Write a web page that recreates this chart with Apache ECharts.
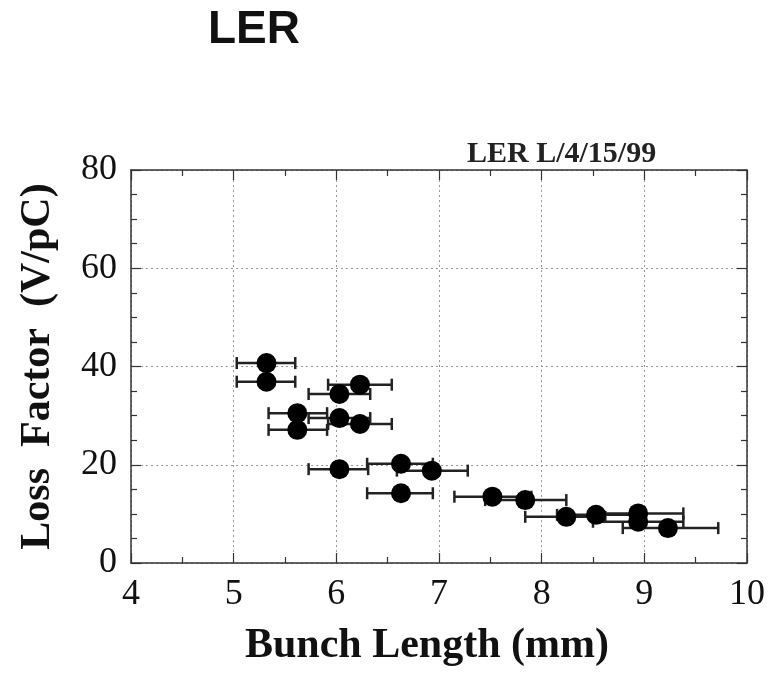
<!DOCTYPE html>
<html>
<head>
<meta charset="utf-8">
<script src="https://cdn.jsdelivr.net/npm/echarts@6/dist/echarts.min.js"></script>
<style>html,body{margin:0;padding:0;background:#fff;}#c{width:773px;height:673px;}</style>
</head>
<body>
<div id="c"></div>
<script>
// Bunch length (mm) and loss factor (V/pC)
var bunchLength = [5.32, 5.32, 6.23, 6.03, 5.62, 5.62, 6.03, 6.23, 6.03, 6.63, 6.93, 6.63, 7.52, 7.84, 8.24, 8.53, 8.94, 8.94, 9.23];
var lossFactor  = [40.7, 36.9, 36.3, 34.4, 30.5, 27.1, 29.5, 28.3, 19.1, 20.2, 18.8, 14.2, 13.5, 12.8, 9.4, 9.8, 10.1, 8.4, 7.1];
var lengthLow   = [5.03, 5.03, 5.92, 5.73, 5.34, 5.34, 5.73, 5.92, 5.73, 6.30, 6.59, 6.30, 7.15, 7.45, 7.84, 8.15, 8.50, 8.50, 8.79];
var lengthHigh  = [5.60, 5.60, 6.54, 6.33, 5.91, 5.91, 6.33, 6.54, 6.31, 6.94, 7.28, 6.94, 7.90, 8.24, 8.62, 8.90, 9.38, 9.38, 9.72];
var xTicks = [4, 5, 6, 7, 8, 9, 10];
var yTicks = [0, 20, 40, 60, 80];

var points = bunchLength.map(function (x, i) { return [x, lossFactor[i]]; });
var bars = bunchLength.map(function (x, i) { return [lengthLow[i], lengthHigh[i], lossFactor[i]]; });

var serif = '"Liberation Serif", "Times New Roman", serif';
var chart = echarts.init(document.getElementById('c'));

function xAxisDef(pos, showLabels) {
  return {
    type: 'value', position: pos, min: xTicks[0], max: xTicks[xTicks.length - 1], interval: 1,
    axisLine: { show: true, onZero: false, lineStyle: { color: '#333', width: 1.5 } },
    axisTick: { show: true, inside: true, length: 10, lineStyle: { color: '#333', width: 1.2 } },
    minorTick: { show: true, splitNumber: 2, length: 6, lineStyle: { color: '#333', width: 1.2 } },
    axisLabel: { show: showLabels, fontFamily: serif, fontSize: 36, color: '#111', margin: 14 },
    splitLine: { show: showLabels, lineStyle: { color: '#999', type: [2, 3], width: 1 } },
    name: showLabels ? 'Bunch Length (mm)' : '', nameLocation: 'middle', nameGap: 62,
    nameTextStyle: { fontFamily: serif, fontWeight: 'bold', fontSize: 42, color: '#111', padding: [0, 24, 0, 0] }
  };
}
function yAxisDef(pos, showLabels) {
  return {
    type: 'value', position: pos, min: yTicks[0], max: yTicks[yTicks.length - 1], interval: 20,
    axisLine: { show: true, onZero: false, lineStyle: { color: '#333', width: 1.5 } },
    axisTick: { show: true, inside: true, length: 10, lineStyle: { color: '#333', width: 1.2 } },
    minorTick: { show: true, splitNumber: 4, length: 6, lineStyle: { color: '#333', width: 1.2 } },
    axisLabel: { show: showLabels, fontFamily: serif, fontSize: 36, color: '#111', margin: 14 },
    splitLine: { show: showLabels, lineStyle: { color: '#999', type: [2, 3], width: 1 } },
    name: showLabels ? 'Loss  Factor  (V/pC)' : '', nameLocation: 'middle', nameGap: 72,
    nameTextStyle: { fontFamily: serif, fontWeight: 'bold', fontSize: 42, color: '#111' }
  };
}

chart.setOption({
  animation: false,
  backgroundColor: '#fff',
  title: [
    { text: 'LER', left: 203, top: 2, textStyle: { fontFamily: '"Liberation Sans", Arial, sans-serif', fontWeight: 'bold', fontSize: 46, color: '#111' } },
    { text: 'LER L/4/15/99', left: 462, top: 134, textStyle: { fontFamily: serif, fontWeight: 'bold', fontSize: 30, color: '#222' } }
  ],
  grid: { left: 131, top: 170, width: 616, height: 393 },
  xAxis: [xAxisDef('bottom', true), xAxisDef('top', false)],
  yAxis: [yAxisDef('left', true), yAxisDef('right', false)],
  series: [
    {
      type: 'custom',
      xAxisIndex: 0, yAxisIndex: 0,
      data: bars,
      renderItem: function (params, api) {
        var lo = api.coord([api.value(0), api.value(2)]);
        var hi = api.coord([api.value(1), api.value(2)]);
        var cap = 6;
        var st = { stroke: '#222', lineWidth: 2.5 };
        return {
          type: 'group',
          children: [
            { type: 'line', shape: { x1: lo[0], y1: lo[1], x2: hi[0], y2: hi[1] }, style: st },
            { type: 'line', shape: { x1: lo[0], y1: lo[1] - cap, x2: lo[0], y2: lo[1] + cap }, style: st },
            { type: 'line', shape: { x1: hi[0], y1: hi[1] - cap, x2: hi[0], y2: hi[1] + cap }, style: st }
          ]
        };
      },
      z: 2
    },
    {
      type: 'scatter',
      xAxisIndex: 0, yAxisIndex: 0,
      data: points,
      symbol: 'circle',
      symbolSize: 20,
      itemStyle: { color: '#000', opacity: 1 },
      z: 3
    }
  ]
});
</script>
</body>
</html>
